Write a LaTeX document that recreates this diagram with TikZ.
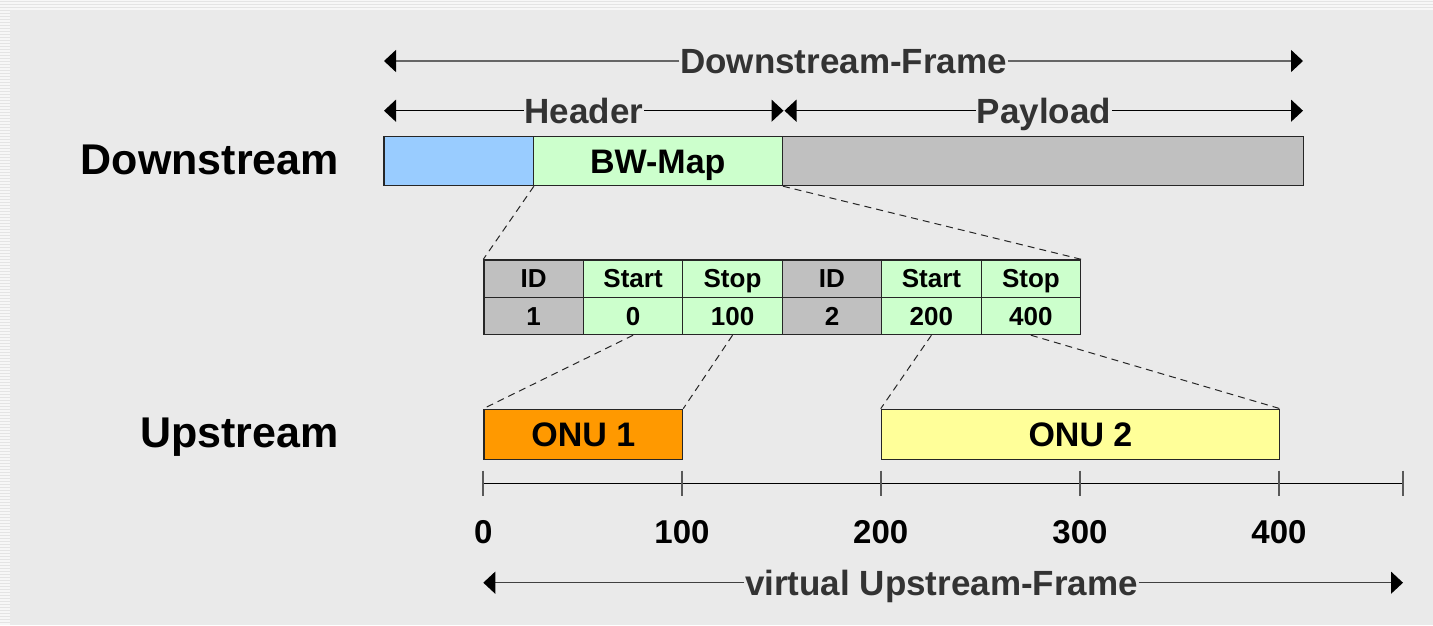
\documentclass[tikz,border=0pt]{standalone}
\usepackage{fontspec}
\setmainfont{Liberation Sans}
\usetikzlibrary{arrows.meta,calc}
\definecolor{bgc}{HTML}{EAEAEA}
\definecolor{stripeA}{HTML}{F7F7F7}
\definecolor{stripeB}{HTML}{E4E4E4}
\definecolor{blueC}{HTML}{99CCFF}
\definecolor{greenC}{HTML}{CCFFCC}
\definecolor{grayC}{HTML}{C0C0C0}
\definecolor{orangeC}{HTML}{FF9900}
\definecolor{yellowC}{HTML}{FFFF99}
\definecolor{lblC}{HTML}{333333}
\begin{document}
\begin{tikzpicture}[x=1pt,y=-1pt,
  cell/.style={draw=black!85, line width=1.2pt, inner sep=0pt, anchor=north west,
    text height=24.3pt, text depth=0pt},
  tbl/.style={cell, minimum width=99.45pt, minimum height=37.35pt,
    font=\bfseries\fontsize{26}{26}\selectfont, text height=18.6pt},
  lbl/.style={inner xsep=0.5pt, inner ysep=0pt, text=lblC,
    font=\bfseries\fontsize{35}{35}\selectfont, text height=25pt, text depth=0pt},
  side/.style={inner sep=0pt, font=\bfseries\fontsize{43}{43}\selectfont, anchor=base east},
  tickl/.style={inner sep=0pt, font=\bfseries\fontsize{33}{33}\selectfont,
    text height=23.6pt, text depth=0pt},
  arrl/.style={line width=1.4pt, -{Triangle[length=12pt,width=22pt,color=black]}},
  dashln/.style={line width=1pt, draw=black!85, dash pattern=on 7pt off 5pt},
  tickm/.style={line width=1.8pt, draw=black!65}
]
\useasboundingbox (0,0) rectangle (1433,625);
% background with striped border
\fill[stripeA] (0,0) rectangle (1433,625);
\foreach \yy in {1.5,4.5,...,625} {\draw[stripeB, line width=1pt] (0,\yy) -- (10,\yy);}
\foreach \yy in {1.5,4.5,7.5} {\draw[stripeB, line width=1pt] (10,\yy) -- (1433,\yy);}
\fill[bgc] (10,10) rectangle (1433,625);

% side labels
\node[side] (dsl) at (339,174) {Downstream};
\node[side] (usl) at (339,447.4) {Upstream};

% downstream frame boxes
\node[cell, fill=blueC, minimum width=149.4pt, minimum height=49.3pt] (blue) at (383.3,135.7) {};
\node[cell, fill=greenC, minimum width=249pt, minimum height=49.3pt,
  font=\bfseries\fontsize{34}{34}\selectfont] (bw) at (532.7,135.7) {BW-Map};
\node[cell, fill=grayC, minimum width=521.3pt, minimum height=49.3pt] (pay) at (781.7,135.7) {};

% top dimension arrows
\coordinate (dfL) at (384,61);
\coordinate (dfR) at (1303,61);
\node[lbl] (dfT) at (843.5,61) {Downstream-Frame};
\draw[arrl, draw=black!60] (dfT.west) -- (dfL);
\draw[arrl, draw=black!60] (dfT.east) -- (dfR);

\coordinate (hL) at (384,110.7);
\coordinate (hR) at (783.5,110.7);
\coordinate (pL) at (784.5,110.7);
\coordinate (pR) at (1303,110.7);
\node[lbl] (hT) at (584,110.7) {Header};
\node[lbl] (pT) at (1044,110.7) {Payload};
\draw[arrl] (hT.west) -- (hL);
\draw[arrl] (hT.east) -- (hR);
\draw[arrl] (pT.west) -- (pL);
\draw[arrl] (pT.east) -- (pR);

% BW map table
\foreach \i/\h/\v/\c in {0/ID/1/grayC, 1/Start/0/greenC, 2/Stop/100/greenC,
    3/ID/2/grayC, 4/Start/200/greenC, 5/Stop/400/greenC} {
  \node[tbl, fill=\c] (h\i) at ({483.3+99.45*\i},259.3) {\h};
  \node[tbl, fill=\c] (v\i) at ({483.3+99.45*\i},296.65) {\v};
}

% upstream boxes
\node[cell, fill=orangeC, minimum width=198.7pt, minimum height=50pt,
  font=\bfseries\fontsize{34}{34}\selectfont] (onu1) at (483.3,408.7) {ONU 1};
\node[cell, fill=yellowC, minimum width=398.3pt, minimum height=50pt,
  font=\bfseries\fontsize{34}{34}\selectfont] (onu2) at (880.7,408.7) {ONU 2};

% dashed zoom lines
\draw[dashln] (blue.south east) -- (h0.north west);
\draw[dashln] (bw.south east) -- (h5.north east);
\draw[dashln] (v1.south) -- (onu1.north west);
\draw[dashln] (v2.south) -- (onu1.north east);
\draw[dashln] (v4.south) -- (onu2.north west);
\draw[dashln] (v5.south) -- (onu2.north east);

% axis
\foreach \n/\xx in {0/483.3, 1/682, 2/880.7, 3/1080, 4/1279, 5/1403} {
  \coordinate (t\n) at (\xx,483.3);
  \coordinate (tu\n) at (\xx,470.7);
  \coordinate (td\n) at (\xx,495.7);
}
\draw[line width=1.4pt] (t0) -- (t5);
\foreach \n in {0,...,5} {\draw[tickm] (tu\n) -- (td\n);}
\foreach \n/\t in {0/0, 1/100, 2/200, 3/300, 4/400} {
  \node[tickl] (n\n) at ($(t\n)+(0,48.2)$) {\t};
}

% virtual upstream frame arrow
\coordinate (uL) at (483.3,582.7);
\coordinate (uR) at (1403,582.7);
\node[lbl] (uT) at (941.5,582.7) {virtual Upstream-Frame};
\draw[arrl, draw=black!75] (uT.west) -- (uL);
\draw[arrl, draw=black!75] (uT.east) -- (uR);
\end{tikzpicture}
\end{document}
